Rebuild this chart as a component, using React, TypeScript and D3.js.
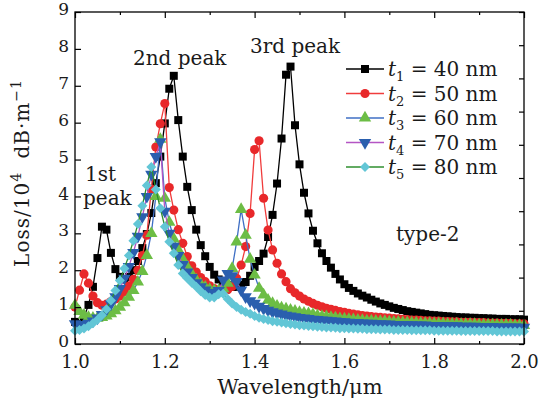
import React, { useEffect, useRef } from "react";
import * as d3 from "d3";

// wavelength grid (um), one point every 0.01
const wavelength = d3.range(101).map((i) => +(1 + i * 0.01).toFixed(2));

// loss values (10^4 dB/m)
const lossT1 = [
  0.6, 0.55, 0.72, 1.06, 1.55, 2.33, 3.18, 3.1, 2.47, 2.03,
  1.82, 1.75, 1.82, 2.0, 2.25, 2.6, 2.98, 3.55, 4.36, 5.08,
  5.98, 6.92, 7.27, 6.07, 5.08, 4.26, 3.63, 3.1, 2.68, 2.38,
  2.09, 1.88, 1.75, 1.66, 1.6, 1.55, 1.55, 1.6, 1.68, 1.85,
  2.09, 2.25, 2.45, 2.9, 3.5, 4.35, 5.57, 7.3, 7.52, 5.93,
  4.87, 4.1, 3.54, 3.07, 2.73, 2.46, 2.25, 2.07, 1.9, 1.75,
  1.62, 1.52, 1.44, 1.37, 1.31, 1.26, 1.2, 1.15, 1.1, 1.06,
  1.02, 0.98, 0.95, 0.92, 0.89, 0.87, 0.85, 0.83, 0.81, 0.79,
  0.78, 0.77, 0.76, 0.75, 0.74, 0.73, 0.72, 0.72, 0.71, 0.71,
  0.7, 0.7, 0.69, 0.69, 0.68, 0.68, 0.68, 0.67, 0.67, 0.67, 0.66,
];
const lossT2 = [
  1.0, 1.46, 1.9, 1.65, 1.3, 1.12, 1.05, 1.08, 1.15, 1.22,
  1.3, 1.42, 1.57, 1.75, 2.0, 2.4, 2.95, 4.2, 5.34, 5.97,
  6.52, 4.24, 3.63, 3.1, 2.73, 2.37, 2.12, 1.95, 1.8, 1.69,
  1.58, 1.5, 1.46, 1.45, 1.47, 1.56, 1.78, 2.14, 2.64, 3.54,
  5.27, 5.51, 3.95, 3.09, 2.55, 2.19, 1.9, 1.69, 1.5, 1.39,
  1.3, 1.22, 1.16, 1.1, 1.05, 1.01, 0.97, 0.94, 0.91, 0.88,
  0.86, 0.83, 0.81, 0.79, 0.77, 0.76, 0.74, 0.73, 0.72, 0.71,
  0.7, 0.69, 0.68, 0.67, 0.66, 0.65, 0.65, 0.64, 0.63, 0.63,
  0.62, 0.62, 0.61, 0.61, 0.6, 0.6, 0.59, 0.59, 0.59, 0.58,
  0.58, 0.58, 0.57, 0.57, 0.57, 0.56, 0.56, 0.56, 0.55, 0.55, 0.55,
];
const lossT3 = [
  1.05, 0.88, 0.78, 0.72, 0.7, 0.7, 0.72, 0.76, 0.82, 0.9,
  1.0, 1.12, 1.27, 1.45, 1.68, 1.97, 2.4, 3.0, 4.0, 5.55,
  3.95, 3.3, 2.85, 2.55, 2.3, 2.09, 1.9, 1.74, 1.62, 1.54,
  1.48, 1.45, 1.45, 1.5, 1.65, 2.05, 2.77, 3.65, 2.95, 2.3,
  1.87, 1.51, 1.33, 1.19, 1.1, 1.03, 0.98, 0.95, 0.92, 0.89,
  0.86, 0.84, 0.82, 0.8, 0.77, 0.75, 0.74, 0.72, 0.71, 0.69,
  0.68, 0.67, 0.66, 0.65, 0.64, 0.63, 0.63, 0.62, 0.61, 0.61,
  0.6, 0.59, 0.59, 0.58, 0.58, 0.57, 0.57, 0.56, 0.56, 0.56,
  0.55, 0.55, 0.55, 0.54, 0.54, 0.54, 0.53, 0.53, 0.53, 0.53,
  0.52, 0.52, 0.52, 0.52, 0.51, 0.51, 0.51, 0.51, 0.5, 0.5, 0.5,
];
const lossT4 = [
  0.55, 0.52, 0.53, 0.56, 0.62, 0.7, 0.8, 0.93, 1.08, 1.28,
  1.5, 1.78, 2.1, 2.48, 2.92, 3.45, 4.0, 4.6, 5.08, 5.48,
  3.6, 3.0, 2.65, 2.4, 2.15, 1.95, 1.8, 1.66, 1.55, 1.46,
  1.4, 1.38, 1.45, 1.73, 1.91, 1.85, 1.69, 1.46, 1.28, 1.17,
  1.1, 1.02, 0.96, 0.91, 0.87, 0.84, 0.81, 0.78, 0.76, 0.74,
  0.72, 0.7, 0.69, 0.67, 0.66, 0.65, 0.64, 0.63, 0.62, 0.61,
  0.6, 0.59, 0.58, 0.58, 0.57, 0.56, 0.56, 0.55, 0.55, 0.54,
  0.54, 0.53, 0.53, 0.52, 0.52, 0.52, 0.51, 0.51, 0.51, 0.5,
  0.5, 0.5, 0.49, 0.49, 0.49, 0.49, 0.48, 0.48, 0.48, 0.48,
  0.47, 0.47, 0.47, 0.47, 0.46, 0.46, 0.46, 0.46, 0.46, 0.45, 0.45,
];
const lossT5 = [
  0.36, 0.38, 0.42, 0.48, 0.56, 0.66, 0.78, 0.94, 1.18, 1.45,
  1.72, 2.05, 2.4, 2.8, 3.25, 3.75, 4.3, 4.8, 4.19, 3.68,
  3.18, 2.77, 2.46, 2.14, 1.91, 1.78, 1.66, 1.55, 1.43, 1.33,
  1.26, 1.26, 1.35, 1.36, 1.22, 1.1, 1.0, 0.93, 0.87, 0.82,
  0.76, 0.71, 0.68, 0.65, 0.62, 0.6, 0.58, 0.56, 0.54, 0.53,
  0.51, 0.5, 0.49, 0.48, 0.47, 0.46, 0.45, 0.45, 0.44, 0.43,
  0.43, 0.42, 0.42, 0.41, 0.41, 0.4, 0.4, 0.4, 0.39, 0.39,
  0.39, 0.38, 0.38, 0.38, 0.38, 0.37, 0.37, 0.37, 0.37, 0.37,
  0.36, 0.36, 0.36, 0.36, 0.36, 0.36, 0.35, 0.35, 0.35, 0.35,
  0.35, 0.35, 0.35, 0.35, 0.34, 0.34, 0.34, 0.34, 0.34, 0.34, 0.34,
];

const series = [
  { sub: "1", nm: "40", values: lossT1, line: "#000000", fill: "#000000", shape: "square" },
  { sub: "2", nm: "50", values: lossT2, line: "#f03c3c", fill: "#e8282a", shape: "circle" },
  { sub: "3", nm: "60", values: lossT3, line: "#3f6fc4", fill: "#6cbd45", shape: "up" },
  { sub: "4", nm: "70", values: lossT4, line: "#b455c4", fill: "#2a5fae", shape: "down" },
  { sub: "5", nm: "80", values: lossT5, line: "#2f8f2f", fill: "#62c6d6", shape: "diamond" },
];

const xMajor = [1.0, 1.2, 1.4, 1.6, 1.8, 2.0];
const xMinor = [1.1, 1.3, 1.5, 1.7, 1.9];
const yMajor = [0, 1, 2, 3, 4, 5, 6, 7, 8, 9];

const FONT = "'DejaVu Serif', serif";

const symbolPath = (shape) => {
  if (shape === "square") return d3.symbol(d3.symbolSquare, 64)();
  if (shape === "circle") return d3.symbol(d3.symbolCircle, 66)();
  if (shape === "up" || shape === "down") return d3.symbol(d3.symbolTriangle, 66)();
  return d3.symbol(d3.symbolSquare, 50)();
};
const symbolRotate = (shape) => (shape === "down" ? 180 : shape === "diamond" ? 45 : 0);

const App = () => {
  const svgRef = useRef(null);

  useEffect(() => {
    const svg = d3.select(svgRef.current);
    svg.selectAll("*").remove();

    const L = 75, R = 524, T = 12, B = 344;
    const x = d3.scaleLinear().domain([1, 2]).range([L, R]);
    const y = d3.scaleLinear().domain([0, 9]).range([B, T]);
    const yRight = d3.scaleLinear().domain([0, 10]).range([B, T]);

    // data
    const line = d3.line().x((d) => x(d[0])).y((d) => y(d[1]));
    series.forEach((s) => {
      const pts = wavelength.map((w, i) => [w, s.values[i]]);
      const g = svg.append("g");
      g.append("path")
        .attr("d", line(pts))
        .attr("fill", "none")
        .attr("stroke", s.line)
        .attr("stroke-width", 1.3);
      const p = symbolPath(s.shape);
      g.selectAll("path.m")
        .data(pts)
        .enter()
        .append("path")
        .attr("class", "m")
        .attr("d", p)
        .attr("fill", s.fill)
        .attr("transform", (d) => `translate(${x(d[0])},${y(d[1])}) rotate(${symbolRotate(s.shape)})`);
    });

    // frame
    svg.append("rect")
      .attr("x", L).attr("y", T).attr("width", R - L).attr("height", B - T)
      .attr("fill", "none").attr("stroke", "#000").attr("stroke-width", 1.3);

    // bottom axis
    const bottom = svg.append("g").attr("transform", `translate(0,${B})`)
      .call(d3.axisBottom(x).tickValues(xMajor).tickSize(-6).tickPadding(11).tickFormat(d3.format(".1f")));
    bottom.append("g").call(d3.axisBottom(x).tickValues(xMinor).tickSize(-3).tickFormat(() => ""));
    // top axis
    const top = svg.append("g").attr("transform", `translate(0,${T})`)
      .call(d3.axisTop(x).tickValues(xMajor).tickSize(-6).tickFormat(() => ""));
    top.append("g").call(d3.axisTop(x).tickValues(xMinor).tickSize(-3).tickFormat(() => ""));
    // left axis
    const left = svg.append("g").attr("transform", `translate(${L},0)`)
      .call(d3.axisLeft(y).tickValues(yMajor).tickSize(-6).tickPadding(6).tickFormat(d3.format("d")));
    // right axis
    svg.append("g").attr("transform", `translate(${R},0)`)
      .call(d3.axisRight(yRight).ticks(10).tickSize(-5).tickFormat(() => ""));

    svg.selectAll(".domain").remove();
    svg.selectAll(".tick line").attr("stroke", "#000").attr("stroke-width", 1.2);
    svg.selectAll(".tick text").attr("font-family", FONT).attr("font-size", 18).attr("fill", "#1a1a1a");
    left.selectAll(".tick text").attr("font-size", 17).attr("dy", "0.15em");

    // axis titles
    svg.append("text")
      .attr("x", 300).attr("y", 394)
      .attr("text-anchor", "middle")
      .attr("font-family", FONT).attr("font-size", 21).attr("fill", "#1a1a1a")
      .text("Wavelength/μm");

    const yt = svg.append("text")
      .attr("transform", `translate(29,173) rotate(-90)`)
      .attr("text-anchor", "middle")
      .attr("font-family", FONT).attr("font-size", 20).attr("fill", "#1a1a1a")
      .attr("letter-spacing", 1);
    yt.append("tspan").text("Loss/10");
    yt.append("tspan").attr("dy", -8).attr("font-size", 14).text("4");
    yt.append("tspan").attr("dy", 8).attr("dx", 6).text(" dB·m");
    yt.append("tspan").attr("dy", -8).attr("font-size", 14).text("−1");

    // annotations
    const note = (tx, ty, str) =>
      svg.append("text").attr("x", tx).attr("y", ty)
        .attr("font-family", FONT).attr("font-size", 20).attr("fill", "#1a1a1a").text(str);
    note(85, 181, "1st");
    note(83, 205, "peak");
    note(133, 65, "2nd peak");
    note(250, 53, "3rd peak");
    note(396, 241, "type-2");

    // legend
    series.forEach((s, i) => {
      const ly = 69 + i * 24.5;
      const g = svg.append("g").attr("transform", `translate(0,${ly})`);
      g.append("line").attr("x1", 346).attr("x2", 384).attr("y1", 0).attr("y2", 0)
        .attr("stroke", s.line).attr("stroke-width", 1.3);
      g.append("path").attr("d", symbolPath(s.shape)).attr("fill", s.fill)
        .attr("transform", `translate(365,0) rotate(${symbolRotate(s.shape)})`);
      const t = g.append("text").attr("x", 388).attr("y", 7)
        .attr("font-family", FONT).attr("font-size", 20).attr("fill", "#1a1a1a");
      t.append("tspan").attr("font-style", "italic").text("t");
      t.append("tspan").attr("dy", 5).attr("font-size", 13).text(s.sub);
      t.append("tspan").attr("dy", -5).text(` = ${s.nm} nm`);
    });
  }, []);

  return (
    <div style={{ position: "absolute", left: 0, top: 0 }}>
      <svg ref={svgRef} width={546} height={401} style={{ display: "block", background: "#fff" }}></svg>
    </div>
  );
};

export default App;
